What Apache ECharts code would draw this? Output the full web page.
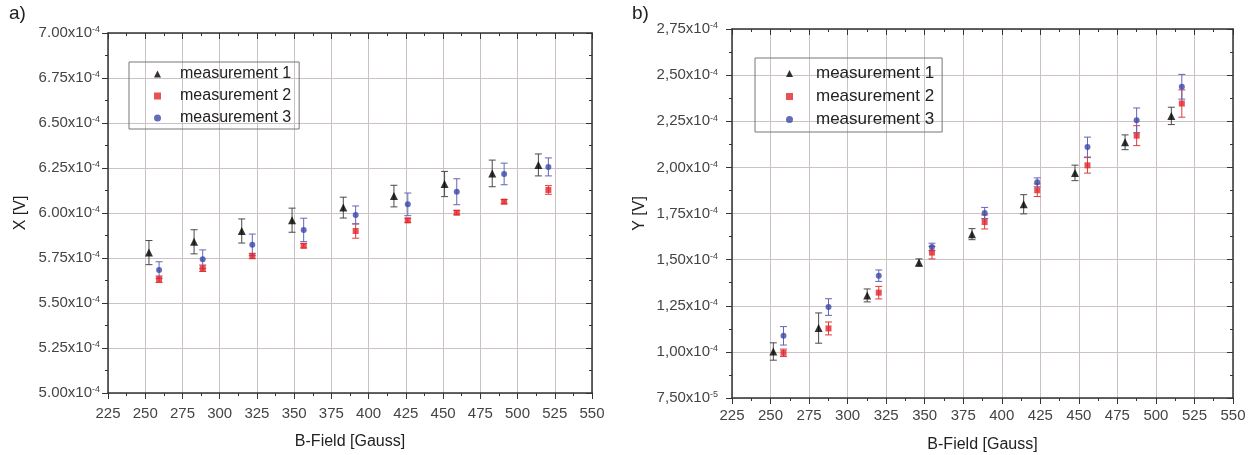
<!DOCTYPE html>
<html><head><meta charset="utf-8">
<script src="https://cdn.jsdelivr.net/npm/echarts@6/dist/echarts.min.js"></script>
<style>html,body{margin:0;padding:0;background:#fff}#c{width:1258px;height:455px}</style>
</head><body><div id="c"></div>
<script>
// All voltage values below are in units of 1e-4 V
const seriesNames = ['measurement 1', 'measurement 2', 'measurement 3'];

// Panel a) X [V]
const aX1  = [252.5, 282.8, 314.8, 348.6, 383.0, 417.0, 451.0, 483.0, 514.0];
const aX23 = [259.3, 288.6, 321.9, 356.4, 391.3, 426.3, 459.2, 491.0, 520.7];
const aM1    = [5.780, 5.840, 5.900, 5.960, 6.030, 6.094, 6.161, 6.220, 6.267];
const aM1Err = [0.067, 0.067, 0.067, 0.067, 0.058, 0.060, 0.070, 0.074, 0.061];
const aM2    = [5.632, 5.693, 5.761, 5.818, 5.900, 5.959, 6.002, 6.063, 6.128];
const aM2Err = [0.018, 0.018, 0.015, 0.012, 0.040, 0.012, 0.012, 0.012, 0.024];
const aM3    = [5.683, 5.743, 5.823, 5.906, 5.989, 6.048, 6.118, 6.217, 6.256];
const aM3Err = [0.046, 0.052, 0.060, 0.065, 0.050, 0.063, 0.072, 0.060, 0.050];

// Panel b) Y [V]
const bX1  = [251.8, 281.2, 312.7, 346.3, 380.7, 414.2, 447.5, 480.0, 510.0];
const bX23 = [258.4, 287.6, 320.2, 354.7, 388.9, 423.0, 455.6, 487.5, 516.8];
const bM1    = [1.002, 1.129, 1.306, 1.484, 1.638, 1.800, 1.970, 2.136, 2.279];
const bM1Err = [0.047, 0.082, 0.035, 0.020, 0.030, 0.052, 0.042, 0.040, 0.047];
const bM2    = [0.995, 1.127, 1.321, 1.538, 1.704, 1.876, 2.011, 2.172, 2.346];
const bM2Err = [0.020, 0.035, 0.034, 0.034, 0.038, 0.034, 0.042, 0.054, 0.074];
const bM3    = [1.087, 1.243, 1.413, 1.569, 1.753, 1.919, 2.110, 2.255, 2.437];
const bM3Err = [0.050, 0.045, 0.031, 0.020, 0.030, 0.024, 0.054, 0.067, 0.067];

// Axis ranges (x in Gauss, y in 1e-4 V)
const xMin = 225, xMax = 550, xStep = 25;
const aYMin = 5.00, aYMax = 7.00, aYStep = 0.25;
const bYMin = 0.75, bYMax = 2.75, bYStep = 0.25;

const C1 = '#000000', C2 = '#e3262a', C3 = '#3c47a8';
const E1 = '#4a4a4a', E2 = '#e23a3a', E3 = '#6266b8';
const FONT = '"Liberation Sans", Arial, sans-serif';

function zip(xs, ys, es) { return xs.map((x, i) => es ? [x, ys[i], es[i]] : [x, ys[i]]); }

function errRender(color) {
  return function (params, api) {
    const x = api.value(0), y = api.value(1), e = api.value(2);
    const t = api.coord([x, y + e]), b = api.coord([x, y - e]);
    const w = 3.5;
    const st = { stroke: color, lineWidth: 1 };
    return { type: 'group', children: [
      { type: 'line', shape: { x1: t[0], y1: t[1], x2: b[0], y2: b[1] }, style: st },
      { type: 'line', shape: { x1: t[0] - w, y1: t[1], x2: t[0] + w, y2: t[1] }, style: st },
      { type: 'line', shape: { x1: b[0] - w, y1: b[1], x2: b[0] + w, y2: b[1] }, style: st }
    ]};
  };
}

function yFmt(sep) {
  return function (v) {
    let m = v, ex = -4;
    if (v < 0.999) { m = v * 10; ex = -5; }
    let s = m.toFixed(2);
    if (sep === ',') s = s.replace('.', ',');
    return '{a|' + s + 'x10}{s|' + ex + '}';
  };
}
const richLab = {
  a: { fontSize: 15, color: '#444', fontFamily: FONT },
  s: { fontSize: 9, color: '#444', fontFamily: FONT, verticalAlign: 'top', padding: [0, 0, 5, 0] }
};
const axisLineStyle = { color: '#333', width: 1.5 };
const gridLine = { show: true, lineStyle: { color: '#cbc3c3', width: 1 } };

function xAxes(gi, nameGap, labMargin) {
  return [
    { type: 'value', gridIndex: gi, min: xMin, max: xMax, interval: xStep, position: 'bottom',
      name: 'B-Field [Gauss]', nameLocation: 'middle', nameGap: nameGap,
      nameTextStyle: { fontSize: 16, color: '#222', fontFamily: FONT },
      axisLine: { show: true, onZero: false, lineStyle: axisLineStyle },
      axisTick: { show: true, inside: false, length: 6, lineStyle: { color: '#333' } },
      minorTick: { show: true, splitNumber: 2, length: 3, lineStyle: { color: '#333' } },
      axisLabel: { fontSize: 15, color: '#444', margin: labMargin, fontFamily: FONT },
      splitLine: gridLine },
    { type: 'value', gridIndex: gi, min: xMin, max: xMax, interval: xStep, position: 'top',
      axisLine: { show: true, onZero: false, lineStyle: axisLineStyle },
      axisTick: { show: true, inside: true, length: 6, lineStyle: { color: '#333' } },
      minorTick: { show: true, splitNumber: 2, length: 3, lineStyle: { color: '#333' } },
      axisLabel: { show: false }, splitLine: { show: false } }
  ];
}
function yAxes(gi, mn, mx, st, name, nameGap, sep, margin) {
  return [
    { type: 'value', gridIndex: gi, min: mn, max: mx, interval: st, position: 'left',
      name: name, nameLocation: 'middle', nameGap: nameGap, nameRotate: 90,
      nameTextStyle: { fontSize: 16, color: '#222', fontFamily: FONT },
      axisLine: { show: true, onZero: false, lineStyle: axisLineStyle },
      axisTick: { show: true, inside: false, length: 6, lineStyle: { color: '#333' } },
      minorTick: { show: true, splitNumber: 2, length: 3, lineStyle: { color: '#333' } },
      axisLabel: { formatter: yFmt(sep), rich: richLab, margin: margin },
      splitLine: gridLine },
    { type: 'value', gridIndex: gi, min: mn, max: mx, interval: st, position: 'right',
      axisLine: { show: true, onZero: false, lineStyle: axisLineStyle },
      axisTick: { show: true, inside: true, length: 6, lineStyle: { color: '#333' } },
      minorTick: { show: true, splitNumber: 2, length: 3, lineStyle: { color: '#333' } },
      axisLabel: { show: false }, splitLine: { show: false } }
  ];
}

function panelSeries(xi, yi, X1, X23, M1, E1v, M2, E2v, M3, E3v) {
  const base = { xAxisIndex: xi, yAxisIndex: yi, animation: false };
  return [
    Object.assign({ type: 'custom', renderItem: errRender(E1), data: zip(X1, M1, E1v), encode: { x: 0, y: 1 }, silent: true, z: 2 }, base),
    Object.assign({ type: 'custom', renderItem: errRender(E2), data: zip(X23, M2, E2v), encode: { x: 0, y: 1 }, silent: true, z: 2 }, base),
    Object.assign({ type: 'custom', renderItem: errRender(E3), data: zip(X23, M3, E3v), encode: { x: 0, y: 1 }, silent: true, z: 2 }, base),
    Object.assign({ type: 'scatter', name: seriesNames[0], symbol: 'triangle', symbolSize: 8, itemStyle: { color: C1 }, data: zip(X1, M1), z: 3 }, base),
    Object.assign({ type: 'scatter', name: seriesNames[1], symbol: 'rect', symbolSize: 6, itemStyle: { color: C2 }, data: zip(X23, M2), z: 3 }, base),
    Object.assign({ type: 'scatter', name: seriesNames[2], symbol: 'circle', symbolSize: 6, itemStyle: { color: C3 }, data: zip(X23, M3), z: 3 }, base)
  ];
}

const chart = echarts.init(document.getElementById('c'), null, { renderer: 'canvas' });
chart.setOption({
  animation: false,
  backgroundColor: '#fff',
  grid: [
    { left: 108, top: 33, width: 484, height: 360, containLabel: false, outerBoundsMode: 'none' },
    { left: 732, top: 29, width: 501, height: 369, containLabel: false, outerBoundsMode: 'none' }
  ],
  xAxis: [].concat(xAxes(0, 41, 13), xAxes(1, 39, 10)),
  yAxis: [].concat(yAxes(0, aYMin, aYMax, aYStep, 'X [V]', 79, '.', 8), yAxes(1, bYMin, bYMax, bYStep, 'Y [V]', 84, ',', 14)),
  legend: [
    { data: seriesNames, orient: 'vertical', left: 129, top: 62, itemGap: 6, itemWidth: 7, itemHeight: 7,
      padding: [4, 8, 3, 25], borderColor: '#777', borderWidth: 1, selectedMode: false,
      textStyle: { fontSize: 16, color: '#222', fontFamily: FONT, padding: [0, 0, 0, 14] } },
    { data: seriesNames, orient: 'vertical', left: 755, top: 58, itemGap: 6, itemWidth: 7, itemHeight: 7,
      padding: [7, 8, 4, 31], borderColor: '#777', borderWidth: 1, selectedMode: false,
      textStyle: { fontSize: 17, color: '#222', fontFamily: FONT, padding: [0, 0, 0, 18] } }
  ],
  graphic: [
    { type: 'text', left: 9, top: 4, style: { text: 'a)', fontSize: 19, fill: '#222', fontFamily: FONT } },
    { type: 'text', left: 632, top: 4, style: { text: 'b)', fontSize: 19, fill: '#222', fontFamily: FONT } }
  ],
  series: [].concat(
    panelSeries(0, 0, aX1, aX23, aM1, aM1Err, aM2, aM2Err, aM3, aM3Err),
    panelSeries(2, 2, bX1, bX23, bM1, bM1Err, bM2, bM2Err, bM3, bM3Err)
  )
});
</script></body></html>
